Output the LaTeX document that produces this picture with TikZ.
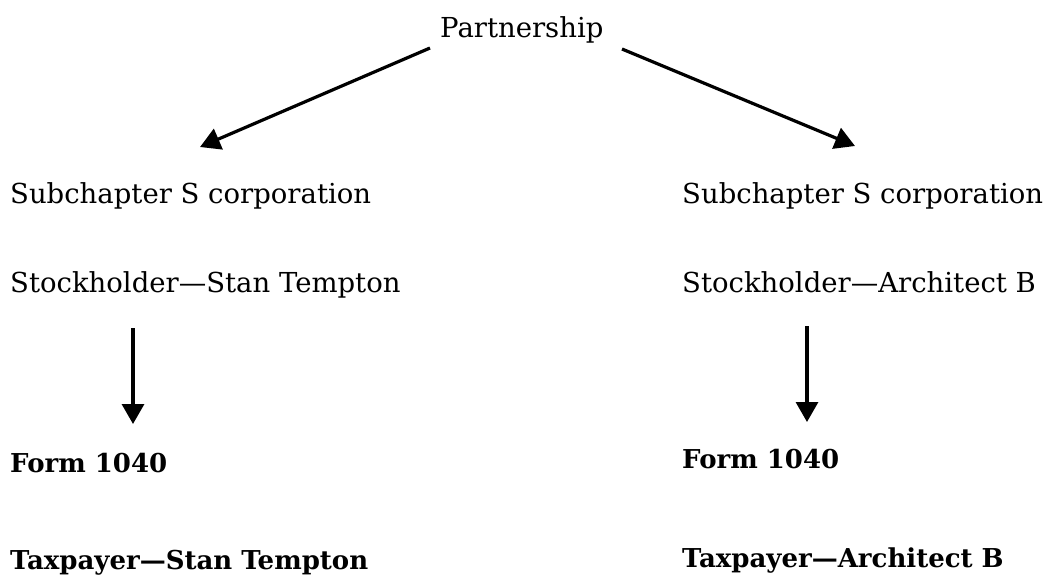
\documentclass[tikz,border=0pt]{standalone}
\usepackage{fontspec}
\setmainfont{DejaVu Serif}
\usetikzlibrary{arrows.meta}
\begin{document}
\begin{tikzpicture}[x=1pt, y=-1pt,
	lbl/.style={anchor=base west, inner sep=0pt, font=\fontsize{27.5}{32}\selectfont},
	blbl/.style={lbl, font=\fontsize{26}{30}\selectfont\bfseries},
	arr/.style={line width=3.2pt, -{Triangle[length=20pt, width=22pt]}}]
	\useasboundingbox (0, 0) rectangle (1051, 582);
	\node[lbl] (part)   at (440, 37)  {Partnership};
	\node[lbl] (subL)   at (10, 203)  {Subchapter S corporation};
	\node[lbl] (subR)   at (682, 203) {Subchapter S corporation};
	\node[lbl] (stockL) at (10, 292)  {Stockholder---Stan Tempton};
	\node[lbl] (stockR) at (682, 292) {Stockholder---Architect B};
	\node[blbl] (formL) at (10, 472)  {Form 1040};
	\node[blbl] (formR) at (682, 468) {Form 1040};
	\node[blbl] (taxL)  at (10, 569)  {Taxpayer---Stan Tempton};
	\node[blbl] (taxR)  at (682, 567) {Taxpayer---Architect B};
	\draw[arr] ([shift={(-10pt, -11pt)}]part.base west) -- ([shift={(190pt, 56pt)}]subL.base west);
	\draw[arr] ([shift={(182pt, -12pt)}]part.base west) -- ([shift={(173pt, 57pt)}]subR.base west);
	\draw[arr] ([shift={(123pt, -36pt)}]stockL.base west) -- ([shift={(123pt, 48pt)}]formL.base west);
	\draw[arr] ([shift={(125pt, -34pt)}]stockR.base west) -- ([shift={(125pt, 46pt)}]formR.base west);
\end{tikzpicture}
\end{document}
